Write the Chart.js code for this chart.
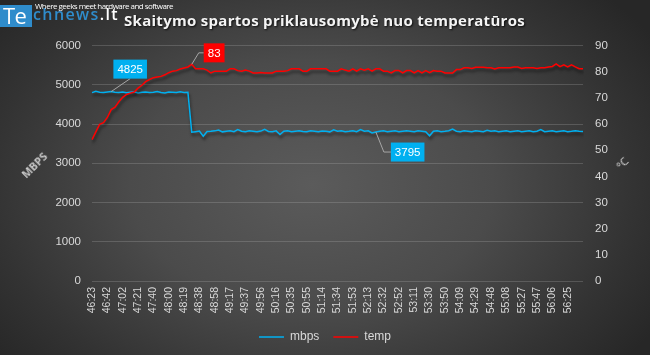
<!DOCTYPE html>
<html>
<head>
<meta charset="utf-8">
<script src="https://cdn.jsdelivr.net/npm/chart.js@4.4.1/dist/chart.umd.min.js"></script>
<style>
  html, body { margin: 0; padding: 0; }
  #wrap {
    position: relative; width: 650px; height: 355px; overflow: hidden;
    background: radial-gradient(ellipse 62% 78% at 48% 52%, #5b5b5b 0%, #4b4b4b 45%, #333333 80%, #272727 100%);
    font-family: 'Liberation Sans', Arial, sans-serif;
  }
  #c { position: absolute; left: 0; top: 0; }
  .ov { position: absolute; white-space: nowrap; }
  #logoBox { left: 0; top: 5px; width: 32px; height: 22px; background: #2f8ccb; }
  #logoTe { left: 3px; top: 1px; font: 22px 'Open Sans', sans-serif; color: #ffffff; line-height: 28px; letter-spacing: -0.5px; }
  #logoRest { left: 33px; top: 2px; font: 600 16px 'Open Sans', sans-serif; color: #2f8ccb; line-height: 24px; }
  #logoRest span { color: #ffffff; }
  #tagline { left: 35px; top: 0px; font: 8px 'Open Sans', sans-serif; color: #ffffff; line-height: 11px; }
  #title { left: 124px; top: 10px; font: bold 15px 'Open Sans', sans-serif; color: #f4f4f4; line-height: 20px;
           text-shadow: 1px 1px 2px rgba(0,0,0,0.8); }
  #ytitle { left: 34px; top: 165px; font: bold 11px 'Open Sans', sans-serif; color: #c8c8c8;
            transform: translate(-50%, -50%) rotate(-45deg); }
  #y1title { left: 622px; top: 163px; font: 11px 'Open Sans', sans-serif; color: #d9d9d9;
             transform: translate(-50%, -50%) rotate(-45deg); }
</style>
</head>
<body>
<div id="wrap">
  <canvas id="c" width="650" height="355"></canvas>
  <div class="ov" id="logoBox"></div>
  <div class="ov" id="logoTe">Te</div>
  <div class="ov" id="logoRest">chnews<span>.lt</span></div>
  <div class="ov" id="tagline">Where geeks meet hardware and software</div>
  <div class="ov" id="title">Skaitymo spartos priklausomybė nuo temperatūros</div>
  <div class="ov" id="ytitle">MBPS</div>
  <div class="ov" id="y1title">°C</div>
</div>
<script>
// ---- data ----
const tickLabels = ['46:23','46:42','47:02','47:21','47:40','48:00','48:19','48:38','48:58','49:17',
  '49:37','49:56','50:16','50:35','50:55','51:14','51:34','51:53','52:13','52:32','52:52','53:11',
  '53:30','53:50','54:09','54:29','54:48','55:08','55:27','55:47','56:06','56:25'];

const mbps = [
  4800,4835,4810,4800,4815,4825,4810,4800,4815,4795,
  4810,4820,4790,4810,4815,4800,4810,4825,4800,4790,
  4815,4810,4800,4820,4805,4810,3790,3805,3820,3690,
  3810,3815,3825,3845,3800,3815,3825,3805,3860,3815,
  3805,3825,3815,3800,3820,3865,3810,3805,3825,3730,
  3815,3825,3805,3815,3825,3810,3800,3825,3815,3805,
  3820,3815,3800,3850,3815,3825,3805,3815,3830,3805,
  3860,3815,3825,3770,3795,3815,3825,3805,3815,3825,
  3805,3815,3825,3815,3800,3825,3815,3805,3700,3815,
  3825,3805,3815,3830,3870,3815,3805,3825,3815,3800,
  3825,3815,3805,3840,3815,3825,3805,3815,3825,3800,
  3815,3830,3805,3815,3825,3805,3815,3860,3805,3815,
  3825,3800,3815,3825,3805,3815,3830,3815,3810
];

const temp = [
  54.0,57.0,59.9,60.5,62.5,65.5,66.4,68.5,70.2,71.3,
  71.8,72.2,73.7,74.8,76.2,77.0,77.7,78.0,78.2,78.8,
  79.6,80.2,80.4,81.0,81.4,81.8,82.8,81.1,81.1,81.1,
  80.6,79.5,80.2,80.2,80.2,80.2,81.1,81.1,80.4,80.2,
  80.6,80.2,79.5,79.5,79.7,79.5,79.5,79.5,80.2,80.2,
  80.2,80.4,81.1,81.1,81.1,80.2,80.2,81.1,81.1,81.1,
  81.1,81.1,80.2,80.2,80.2,81.1,80.6,80.2,81.1,80.2,
  81.1,80.6,81.1,80.2,81.1,81.1,80.2,80.2,79.5,80.4,
  80.4,79.5,80.4,80.4,79.5,80.4,79.5,80.4,79.6,80.4,
  80.2,80.2,79.5,79.5,79.5,80.8,80.8,81.5,81.5,81.2,
  81.7,81.7,81.7,81.5,81.5,81.0,81.5,81.5,81.5,81.5,
  81.8,81.8,81.2,81.5,81.5,81.5,81.2,81.5,81.5,81.8,
  82.0,83.0,81.9,82.6,81.8,82.6,81.8,81.1,81.1
];

const seriesNames = ['mbps', 'temp'];
const samplesPerTick = 4;
// callouts: which series / sample gets a value label
const callouts = [
  { series: 0, index: 5, style: 'up' },
  { series: 1, index: 26, style: 'right' },
  { series: 0, index: 74, style: 'down' }
];

// category labels built from tick labels
const categories = mbps.map((_, i) => (i % samplesPerTick === 0 && tickLabels[i / samplesPerTick]) ? tickLabels[i / samplesPerTick] : '');

// ---- text fitting for overlays ----
function fitWidth(id, target) {
  const el = document.getElementById(id);
  const n = el.textContent.length;
  const w = el.getBoundingClientRect().width;
  el.style.letterSpacing = ((target - w) / n) + 'px';
}
fitWidth('title', 401);
fitWidth('logoRest', 86);
fitWidth('tagline', 138);

const FONT = "'Liberation Sans', Arial, sans-serif";
Chart.defaults.font.family = FONT;
Chart.defaults.color = '#d9d9d9';

const shadowPlugin = {
  id: 'lineShadow',
  beforeDatasetDraw(chart) {
    const ctx = chart.ctx;
    ctx.save();
    ctx.shadowColor = 'rgba(0,0,0,0.55)';
    ctx.shadowBlur = 3;
    ctx.shadowOffsetX = 1;
    ctx.shadowOffsetY = 3;
  },
  afterDatasetDraw(chart) { chart.ctx.restore(); }
};

const calloutPlugin = {
  id: 'callouts',
  afterDatasetsDraw(chart) {
    const ctx = chart.ctx;
    ctx.save();
    ctx.font = '11.5px ' + FONT;
    callouts.forEach(c => {
      const ds = chart.data.datasets[c.series];
      const p = chart.getDatasetMeta(c.series).data[c.index];
      const text = String(Math.round(ds.data[c.index]));
      const tw = ctx.measureText(text).width;
      const bw = tw + 8, bh = 19;
      let bx, by, path;
      if (c.style === 'up') {
        bx = p.x + 19 - bw / 2; by = p.y - 13 - bh;
        path = [[p.x, p.y], [p.x + 19, p.y - 13]];
      } else if (c.style === 'right') {
        bx = p.x + 12; by = p.y - 11.5 - bh / 2;
        path = [[p.x, p.y], [p.x + 7, p.y - 11.5], [p.x + 12, p.y - 11.5]];
      } else {
        bx = p.x + 15; by = p.y + 20 - bh / 2;
        path = [[p.x, p.y], [p.x + 8, p.y + 20], [p.x + 15, p.y + 20]];
      }
      ctx.strokeStyle = '#a6a6a6';
      ctx.lineWidth = 1;
      ctx.beginPath();
      path.forEach((q, k) => k ? ctx.lineTo(q[0], q[1]) : ctx.moveTo(q[0], q[1]));
      ctx.stroke();
      ctx.fillStyle = ds.borderColor;
      ctx.fillRect(bx, by, bw, bh);
      ctx.fillStyle = '#ffffff';
      ctx.textAlign = 'center';
      ctx.textBaseline = 'middle';
      ctx.fillText(text, bx + bw / 2, by + bh / 2 + 0.5);
    });
    ctx.restore();
  }
};

new Chart(document.getElementById('c'), {
  type: 'line',
  data: {
    labels: categories,
    datasets: [
      { label: seriesNames[0], data: mbps, yAxisID: 'y', borderColor: '#00b0f0', backgroundColor: '#00b0f0',
        borderWidth: 1.5, pointRadius: 0, tension: 0, order: 2 },
      { label: seriesNames[1], data: temp, yAxisID: 'y1', borderColor: '#ff0000', backgroundColor: '#ff0000',
        borderWidth: 1.5, pointRadius: 0, tension: 0, order: 1 }
    ]
  },
  options: {
    responsive: false,
    animation: false,
    events: [],
    layout: { padding: { top: 45.5, left: 0, right: 0, bottom: 2 } },
    plugins: {
      title: { display: false },
      tooltip: { enabled: false },
      legend: {
        position: 'bottom',
        labels: {
          color: '#d9d9d9', font: { size: 12 }, usePointStyle: true, pointStyle: 'line', pointStyleWidth: 25,
          padding: 14,
          sort: (a, b) => a.datasetIndex - b.datasetIndex
        }
      }
    },
    scales: {
      x: {
        type: 'category',
        grid: { display: false, drawTicks: false },
        border: { display: false },
        ticks: { autoSkip: false, minRotation: 90, maxRotation: 90, color: '#d9d9d9', font: { size: 10.5 }, padding: 6 },
        afterFit(s) { s.height = 36; }
      },
      y: {
        position: 'left', min: 0, max: 6000,
        ticks: { stepSize: 1000, color: '#d9d9d9', font: { size: 11.5 }, padding: 11, callback: v => String(v) },
        grid: { color: 'rgba(200,200,200,0.22)', lineWidth: 1, drawTicks: false },
        border: { display: false },
        afterFit(s) { s.width = 92; }
      },
      y1: {
        position: 'right', min: 0, max: 90,
        ticks: { stepSize: 10, color: '#d9d9d9', font: { size: 11.5 }, padding: 12, callback: v => String(v) },
        grid: { drawOnChartArea: false, drawTicks: false },
        border: { display: false },
        afterFit(s) { s.width = 67; }
      }
    }
  },
  plugins: [shadowPlugin, calloutPlugin]
});
</script>
</body>
</html>
